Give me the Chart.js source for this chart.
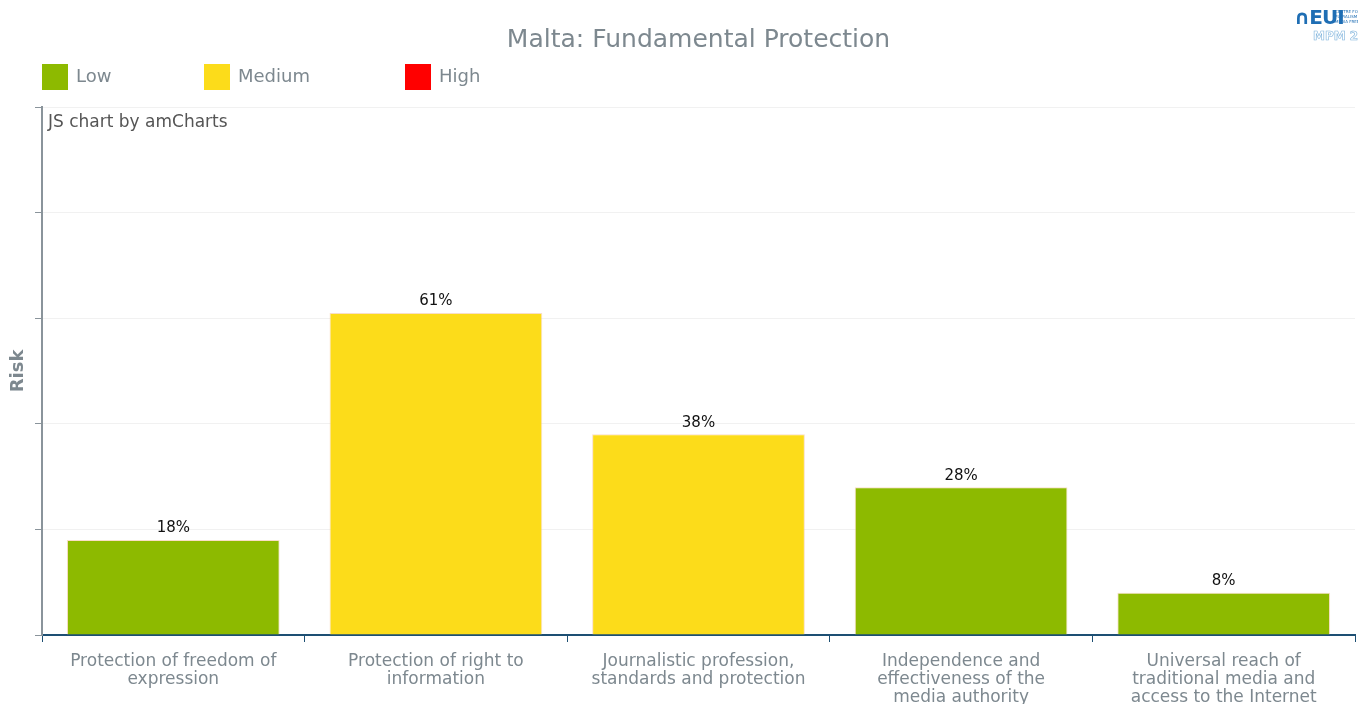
<!DOCTYPE html>
<html>
<head>
<meta charset="utf-8">
<title>Malta: Fundamental Protection</title>
<script src="https://cdn.jsdelivr.net/npm/chart.js@4"></script>
<style>
  html, body { margin: 0; padding: 0; background: #fff; }
  #wrap { position: relative; width: 1358px; height: 704px; overflow: hidden; }
  #logo { position: absolute; top: 5px; left: 1294px; width: 64px; height: 40px; overflow: hidden;
          font-family: "DejaVu Sans", sans-serif; white-space: nowrap; }
  #logo .eui { position: absolute; left: 0; top: 0; font-size: 20px; font-weight: bold; color: #1f6eb4; letter-spacing: -1px; }
  #logo .small { position: absolute; left: 41px; top: 4px; font-size: 4px; line-height: 5px; color: #1f6eb4; }
  #logo .mpm { position: absolute; left: 19px; top: 24px; font-size: 12px; font-weight: bold; color: #fff;
               -webkit-text-stroke: 0.6px #7fb3dc; }
</style>
</head>
<body>
<div id="wrap">
  <canvas id="riskChart" width="1358" height="704"></canvas>
  <div id="logo">
    <span class="eui">&#x2229;EUI</span>
    <span class="small">CENTRE FOR<br>PLURALISM<br>MEDIA FREEDOM</span>
    <span class="mpm">MPM 2017</span>
  </div>
</div>
<script>
// Fundamental Protection indicators for Malta (risk %)
const areas = [
    ['Protection of freedom of', 'expression'],
    ['Protection of right to', 'information'],
    ['Journalistic profession,', 'standards and protection'],
    ['Independence and', 'effectiveness of the', 'media authority'],
    ['Universal reach of', 'traditional media and', 'access to the Internet']
];
const riskValues = [18, 61, 38, 28, 8];

// Risk bands for the legend
const riskLevels = ['Low', 'Medium', 'High'];
const riskColors = ['#8dba00', '#fcdc1a', '#ff0000'];

function levelOf(v) {
    if (v < 34) return 0;
    if (v < 67) return 1;
    return 2;
}

const greyText = '#7d888f';

// percentage on top of each bar
const valueLabels = {
    id: 'valueLabels',
    afterDatasetsDraw(chart) {
        const ctx = chart.ctx;
        const meta = chart.getDatasetMeta(0);
        ctx.save();
        ctx.font = '15px "DejaVu Sans"';
        ctx.fillStyle = '#111';
        ctx.textAlign = 'center';
        ctx.textBaseline = 'bottom';
        meta.data.forEach((bar, i) => {
            ctx.fillText(riskValues[i] + '%', bar.x, bar.y - 4);
        });
        ctx.restore();
    }
};

// fixed-column legend + credit text
const riskLegend = {
    id: 'riskLegend',
    afterDraw(chart) {
        const ctx = chart.ctx;
        const cols = [42, 204, 405];
        ctx.save();
        ctx.font = '18px "DejaVu Sans"';
        ctx.textBaseline = 'middle';
        riskLevels.forEach((name, i) => {
            ctx.fillStyle = riskColors[i];
            ctx.fillRect(cols[i], 64, 26, 26);
            ctx.fillStyle = greyText;
            ctx.fillText(name, cols[i] + 34, 77);
        });
        ctx.font = '17px "DejaVu Sans"';
        ctx.fillStyle = '#555';
        ctx.fillText('JS chart by amCharts', 48, 123);
        ctx.restore();
    }
};

new Chart(document.getElementById('riskChart'), {
    type: 'bar',
    data: {
        labels: areas,
        datasets: [{
            label: 'Risk',
            data: riskValues,
            backgroundColor: riskValues.map(v => riskColors[levelOf(v)]),
            borderColor: 'rgba(245, 200, 160, 0.6)',
            borderWidth: 1,
            borderSkipped: 'bottom',
            barPercentage: 0.81,
            categoryPercentage: 1.0
        }]
    },
    options: {
        responsive: false,
        animation: false,
        layout: {
            padding: { top: 14, left: 0, right: 3, bottom: 0 }
        },
        plugins: {
            legend: { display: false },
            tooltip: { enabled: false },
            title: {
                display: true,
                fullSize: false,
                text: 'Malta: Fundamental Protection',
                color: greyText,
                font: { family: 'DejaVu Sans', size: 25, weight: 'normal', lineHeight: 1.2 },
                padding: { top: 11, bottom: 52 }
            }
        },
        scales: {
            x: {
                border: { color: '#1d4f73', width: 2 },
                grid: {
                    drawOnChartArea: false,
                    drawTicks: true,
                    tickLength: 7,
                    color: '#1d4f73'
                },
                ticks: {
                    color: greyText,
                    font: { family: 'DejaVu Sans', size: 17, lineHeight: 1.06 },
                    padding: 11,
                    maxRotation: 0,
                    autoSkip: false
                },
                afterFit(scale) { scale.height = 69; }
            },
            y: {
                min: 0,
                max: 100,
                z: 1,
                border: { color: '#8a949b', width: 2 },
                grid: {
                    color: 'rgba(230, 230, 230, 0.55)',
                    tickColor: '#8a949b',
                    tickLength: 7
                },
                ticks: { stepSize: 20, display: false },
                title: {
                    display: true,
                    text: 'Risk',
                    color: greyText,
                    font: { family: 'DejaVu Sans', size: 18, weight: 'bold' },
                    padding: { top: 8, bottom: 0 }
                },
                afterFit(scale) { scale.width = 42; }
            }
        }
    },
    plugins: [valueLabels, riskLegend]
});
</script>
</body>
</html>
